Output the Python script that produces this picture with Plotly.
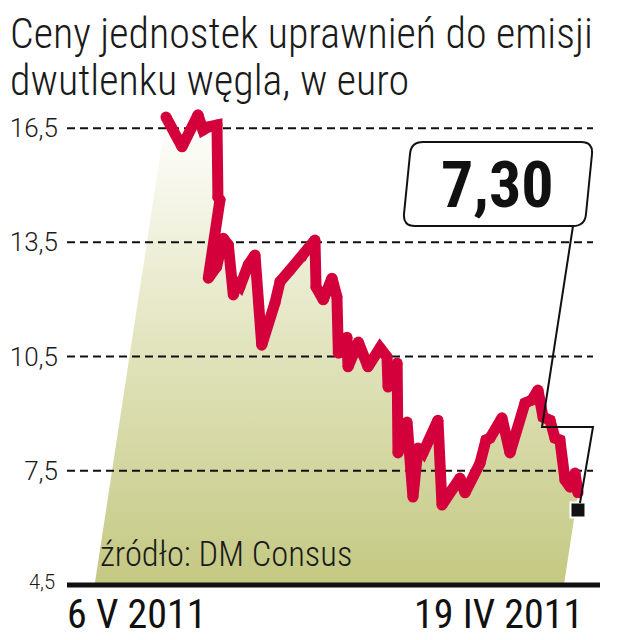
import plotly.graph_objects as go

# ---------------- data ----------------
days = [0, 13.6, 27.1, 31.3, 35.6, 43.2, 44.0, 45.7, 35.8, 42.9, 48.5, 52.8, 57.0,
        59.9, 62.7, 69.7, 75.4, 81.1, 92.3, 96.6, 105.0, 115.0, 123.4, 126.2, 127.1,
        133.2, 140.6, 144.8, 146.0, 153.3, 154.2, 162.9, 171.1, 181.3, 187.2, 188.1,
        195.8, 196.5, 204.2, 209.2, 213.5, 217.7, 230.4, 233.8, 242.3, 249.0, 253.3,
        266.0, 271.1, 274.5, 284.6, 291.4, 304.1, 310.0, 315.1, 319.4, 325.3, 329.5,
        333.7, 338.0, 342.3, 346.5, 349.0]
values = [16.79, 16.01, 16.85, 16.45, 16.53, 16.58, 14.69, 14.61, 12.56, 12.86, 13.61,
          13.43, 12.12, 12.42, 12.34, 12.91, 13.17, 10.80, 11.91, 12.47, 12.77, 13.12,
          13.39, 13.56, 12.33, 11.99, 12.56, 12.07, 10.59, 11.01, 10.23, 10.88, 10.23,
          10.73, 10.49, 9.70, 10.33, 7.97, 8.78, 6.81, 8.10, 7.97, 8.83, 6.60, 7.00,
          7.31, 6.92, 7.70, 8.31, 8.36, 8.89, 7.97, 9.28, 9.36, 9.62, 8.91, 8.83, 8.36,
          8.31, 7.26, 7.07, 7.44, 6.92]

y_ticks = [7.5, 10.5, 13.5, 16.5]
y_tick_labels = ["7,5", "10,5", "13,5", "16,5"]
y_base = 4.5
y_base_label = "4,5"
x_labels = ["6 V 2011", "19 IV 2011"]
last_label = "7,30"
title_lines = ["Ceny jednostek uprawnień do emisji", "dwutlenku węgla, w euro"]
source_text = "źródło: DM Consus"

# ---------------- layout geometry (page pixels) ----------------
OFF = 8                                  # page margin around the plot div
W, H = 642 - OFF, 640 - OFF
L, R, T, B = 67, 600, 105, 585           # plot area in page pixels
PX_PER_UNIT = 38.07                      # vertical pixels per euro
PX_PER_DAY = 1.1805
X0_PX = 166                              # page pixel of first day
SHEAR = 4.92                             # slant of the shaded area (days per euro)

x_range = [(L - X0_PX) / PX_PER_DAY, (R - X0_PX) / PX_PER_DAY]
y_range = [y_base, y_base + (B - T) / PX_PER_UNIT]
grid_end = (593 - X0_PX) / PX_PER_DAY

RED = "#d3003c"
TXT = "#1a1a1a"
NARROW = "Liberation Sans Narrow, Roboto Condensed, DejaVu Sans Condensed, Roboto"
LIGHT = "Roboto, Liberation Sans, sans-serif"


def px(x):
    return (x - L) / (R - L)


def py(y):
    return (B - y) / (B - T)


fig = go.Figure()

# shaded, slanted area under the line
fill_x = days + [days[-1] - SHEAR * (values[-1] - y_base), days[0] - SHEAR * (values[0] - y_base)]
fill_y = values + [y_base, y_base]
fig.add_trace(go.Scatter(
    x=fill_x, y=fill_y, mode="none", fill="toself",
    fillgradient=dict(type="vertical",
                      colorscale=[[0, "#c4c882"], [0.45, "#dee1b6"], [1, "#ffffff"]]),
    hoverinfo="skip", showlegend=False))

# dashed grid lines (above the shading, below the price line)
gx, gy = [], []
for t in y_ticks:
    gx += [x_range[0], grid_end, None]
    gy += [t, t, None]
fig.add_trace(go.Scatter(x=gx, y=gy, mode="lines",
                         line=dict(color="#111111", width=2, dash="8px,5px"),
                         hoverinfo="skip", showlegend=False))

# price line
fig.add_trace(go.Scatter(x=days, y=values, mode="lines+markers",
                         line=dict(color=RED, width=11),
                         marker=dict(color=RED, size=11),
                         showlegend=False))

# end marker (black square just below last point)
fig.add_trace(go.Scatter(x=[days[-1]], y=[values[-1] - 0.45], mode="markers",
                         marker=dict(symbol="square", size=15, color="#111111",
                                     line=dict(color="white", width=2)),
                         showlegend=False, hoverinfo="skip"))

shapes = []
# baseline
shapes.append(dict(type="line", xref="paper", yref="paper", x0=0, x1=1, y0=0, y1=0,
                   line=dict(color="#111111", width=5)))


def P(x, y):
    return f"{px(x):.5f},{py(y):.5f}"


box = (f"M{P(423,142)} L{P(581,142)} Q{P(593,142)} {P(592,154)} L{P(586,214)} "
       f"Q{P(585,226)} {P(573,226)} L{P(415,226)} Q{P(403,226)} {P(404,214)} "
       f"L{P(410,154)} Q{P(411,142)} {P(423,142)} Z")
shapes.append(dict(type="path", xref="paper", yref="paper", path=box,
                   line=dict(color="#111111", width=2), fillcolor="white"))
conn = f"M{P(573,226)} L{P(542,427)} L{P(593,427)} L{P(580,503)}"
shapes.append(dict(type="path", xref="paper", yref="paper", path=conn,
                   line=dict(color="#111111", width=2)))

annotations = [
    dict(text=title_lines[0], x=px(8.5), y=py(33), xanchor="left", yanchor="middle",
         borderpad=0, font=dict(family=NARROW, size=42, color=TXT, weight=300)),
    dict(text=title_lines[1], x=px(8.5), y=py(81), xanchor="left", yanchor="middle",
         borderpad=0, font=dict(family=NARROW, size=42, color=TXT, weight=300)),
    dict(text=last_label, x=px(497), y=py(185), xanchor="center", yanchor="middle",
         font=dict(family=NARROW, size=64, color="#111111", weight="bold")),
    dict(text=source_text, x=px(98), y=py(554), xanchor="left", yanchor="middle",
         font=dict(family=NARROW, size=34.5, color=TXT, weight=300)),
    dict(text=y_base_label, x=px(57), y=py(582), xanchor="right", yanchor="middle",
         font=dict(family=LIGHT, size=20, color=TXT, weight=300)),
    dict(text=x_labels[0], x=px(65), y=py(614), xanchor="left", yanchor="middle",
         font=dict(family=NARROW, size=40, color="#111111")),
    dict(text=x_labels[1], x=px(585), y=py(614), xanchor="right", yanchor="middle",
         font=dict(family=NARROW, size=40, color="#111111")),
]
for a in annotations:
    a.update(xref="paper", yref="paper", showarrow=False)

fig.update_layout(
    width=W, height=H,
    margin=dict(l=L - OFF, r=642 - R, t=T - OFF, b=640 - B, pad=0),
    paper_bgcolor="white", plot_bgcolor="rgba(0,0,0,0)",
    xaxis=dict(range=x_range, visible=False, fixedrange=True, automargin=False),
    yaxis=dict(range=y_range, tickvals=y_ticks, ticktext=y_tick_labels,
               showgrid=False, zeroline=False, showline=False, ticks="",
               automargin=False, ticklabelstandoff=8,
               tickfont=dict(family=LIGHT, size=26, color=TXT, weight=300),
               fixedrange=True),
    shapes=shapes, annotations=annotations,
    showlegend=False,
)

fig.write_html("out.html")
